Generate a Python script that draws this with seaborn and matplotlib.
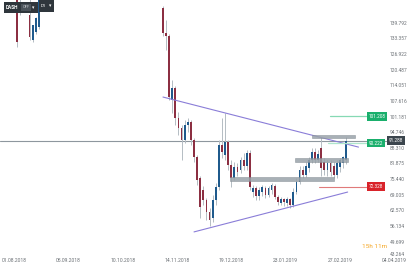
import numpy as np
import pandas as pd
import matplotlib
matplotlib.use("Agg")
import matplotlib.pyplot as plt
import matplotlib.dates as mdates
import matplotlib.transforms as mtransforms
from matplotlib.patches import Rectangle
import seaborn as sns

# ---------------- data ----------------
aug_start = "2018-08-01"
aug_open  = [185.0, 172.0, 150.0, 160.0, 165.0, 143.0, 132.7, 136.0, 138.0]
aug_high  = [190.0, 175.0, 175.0, 170.0, 168.0, 150.0, 138.8, 142.0, 160.0]
aug_low   = [168.0, 129.8, 142.9, 152.0, 150.0, 132.7, 131.9, 135.0, 137.0]
aug_close = [172.0, 131.8, 160.0, 165.0, 155.0, 133.9, 138.8, 141.7, 155.0]

main_start = "2018-11-05"
main_open = [145.8, 135.6, 134.3, 108.0, 112.9, 100.6, 96.5, 91.5, 97.7, 98.9,
             91.5, 84.5, 75.9, 70.9, 66.8, 61.9, 59.4, 66.8, 72.2, 89.5,
             85.4, 90.7, 81.2, 75.9, 80.4, 79.2, 83.3, 80.8, 86.2, 70.1,
             71.8, 68.5, 70.1, 71.8, 68.9, 70.9, 72.6, 68.1, 65.6, 67.2,
             65.6, 67.2, 64.8, 70.1, 74.2, 79.2, 77.1, 80.0, 83.3, 86.6,
             83.3, 88.2, 82.5, 79.2, 82.1, 80.8, 77.1, 80.4, 82.1, 83.3]
main_high = [146.7, 140.9, 135.1, 116.2, 113.7, 103.0, 97.7, 99.8, 100.6, 99.8,
             92.3, 85.4, 76.7, 72.6, 67.7, 63.5, 68.9, 73.8, 91.5, 100.6,
             102.6, 91.5, 83.3, 82.5, 82.1, 84.5, 86.2, 87.4, 87.4, 73.0,
             72.6, 72.2, 73.0, 72.6, 72.6, 73.8, 73.4, 68.9, 68.1, 67.7,
             68.1, 67.7, 71.8, 75.9, 80.8, 80.8, 82.5, 84.5, 88.2, 88.2,
             87.4, 92.8, 84.1, 83.3, 83.3, 82.5, 83.3, 84.1, 84.9, 92.8]
main_low = [134.3, 128.6, 108.0, 102.6, 97.7, 93.6, 83.3, 90.3, 94.8, 89.5,
            82.5, 73.0, 59.4, 64.8, 58.6, 56.1, 57.8, 64.8, 70.9, 84.1,
            83.3, 79.2, 72.2, 75.1, 76.7, 77.9, 79.2, 79.2, 70.9, 68.1,
            66.8, 66.8, 68.5, 67.7, 68.1, 69.3, 67.2, 64.8, 64.8, 64.4,
            64.4, 63.5, 64.0, 69.3, 73.4, 75.9, 76.3, 78.4, 82.1, 82.1,
            82.5, 76.7, 77.1, 76.7, 76.7, 75.9, 75.9, 78.4, 80.0, 81.6]
main_close = [135.6, 134.3, 109.2, 112.9, 100.6, 96.5, 91.5, 97.7, 98.9, 91.5,
              84.5, 75.1, 63.9, 66.8, 61.9, 58.6, 66.8, 72.2, 89.5, 86.6,
              90.7, 81.2, 75.9, 80.4, 78.4, 83.3, 80.8, 86.2, 72.2, 71.8,
              68.5, 70.9, 72.2, 68.9, 71.8, 73.0, 68.1, 66.0, 67.2, 66.0,
              67.2, 64.8, 70.1, 74.2, 79.2, 77.1, 80.8, 83.3, 86.6, 83.3,
              85.8, 80.0, 79.2, 82.1, 78.4, 77.1, 82.1, 83.3, 84.5, 91.288]

last_price = 91.288
green_level_1 = 101.208
green_level_2 = 90.222
red_level = 72.328

upper_trend_dates = ["2018-11-05", "2019-03-11"]
upper_trend_prices = [109.2, 88.6]
lower_trend_dates = ["2018-11-25", "2019-03-04"]
lower_trend_prices = [53.7, 70.1]

zone_starts = ["2018-12-18", "2019-01-29", "2019-02-09"]
zone_ends = ["2019-02-23", "2019-03-04", "2019-03-09"]
zone_lows = [74.65, 82.5, 92.2]
zone_highs = [76.3, 84.1, 93.6]

y_tick_values = [139.792, 133.357, 126.922, 120.487, 114.051, 107.616, 101.181, 94.746,
                 88.310, 81.875, 75.440, 69.005, 62.570, 56.134, 49.699, 43.264]
y_tick_labels = ["139.792", "133.357", "126.922", "120.487", "114.051", "107.616", "101.181",
                 "94.746", "88.310", "81.875", "75.440", "69.005", "62.570", "56.134",
                 "49.699", "43.264"]
x_tick_labels = ["01.08.2018", "05.09.2018", "10.10.2018", "14.11.2018",
                 "19.12.2018", "23.01.2019", "27.02.2019", "04.04.2019"]

# ---------------- frame ----------------
aug = pd.DataFrame({"date": pd.date_range(aug_start, periods=len(aug_open), freq="2D"),
                    "open": aug_open, "high": aug_high, "low": aug_low, "close": aug_close})
main = pd.DataFrame({"date": pd.date_range(main_start, periods=len(main_open), freq="2D"),
                     "open": main_open, "high": main_high, "low": main_low, "close": main_close})
df = pd.concat([aug, main], ignore_index=True)
df["x"] = mdates.date2num(df["date"])
df["up"] = df["close"] >= df["open"]

sns.set_theme(style="white")
plt.rcParams["font.family"] = ["Roboto", "DejaVu Sans"]

W, H, DPI = 415, 267, 100
fig = plt.figure(figsize=(W / DPI, H / DPI), dpi=DPI)
fig.patch.set_facecolor("white")
ax = fig.add_axes([0, 0, 1, 1])
ax.set_facecolor("white")
for s in ax.spines.values():
    s.set_visible(False)

base = mdates.date2num(pd.Timestamp(aug_start))
XL = (base - 9.02, base + 258.4)
YL = (39.26, 149.13)

up_c, dn_c, wick_c = "#1f5a8c", "#8c2f42", "#b4bcc3"

ax.vlines(df["x"], df["low"], df["high"], color=wick_c, lw=0.7, zorder=2)
body_bottom = np.minimum(df["open"], df["close"])
body_h = np.maximum(np.abs(df["close"] - df["open"]), 0.35)
ax.bar(df["x"], body_h, bottom=body_bottom, width=1.15,
       color=np.where(df["up"], up_c, dn_c), edgecolor="none", zorder=3)

# current price line
ytr = ax.get_yaxis_transform()
ax.plot([0, 388 / W], [last_price, last_price], transform=ytr, color="#8e979e", lw=0.8, zorder=1)

# trendlines with seaborn
tr = pd.DataFrame({
    "date": mdates.date2num(pd.to_datetime(upper_trend_dates + lower_trend_dates)),
    "price": upper_trend_prices + lower_trend_prices,
    "line": ["upper", "upper", "lower", "lower"],
})
sns.lineplot(data=tr, x="date", y="price", units="line", estimator=None,
             color="#8a7dd8", lw=0.8, ax=ax, zorder=4, legend=False)
ax.set_xlabel("")
ax.set_ylabel("")

# zones
for s0, s1, lo, hi in zip(zone_starts, zone_ends, zone_lows, zone_highs):
    x0 = mdates.date2num(pd.Timestamp(s0))
    x1 = mdates.date2num(pd.Timestamp(s1))
    ax.add_patch(Rectangle((x0, lo), x1 - x0, hi - lo, facecolor="#99a2a9",
                           edgecolor="#838c93", lw=0.4, alpha=0.85, zorder=5))

# level lines + boxes
ax.plot([330 / W, 367 / W], [green_level_1] * 2, transform=ytr, color="#86d9b4", lw=0.9, zorder=4)
ax.plot([328 / W, 367 / W], [green_level_2] * 2, transform=ytr, color="#aee6cc", lw=0.9, zorder=4)
ax.plot([319 / W, 367 / W], [red_level] * 2, transform=ytr, color="#e07a7a", lw=0.8, zorder=4)

def box(xfrac, y, txt, fc):
    ax.text(xfrac, y, txt, transform=ytr, ha="left", va="center", fontsize=3.4,
            color="white", zorder=7,
            bbox=dict(boxstyle="square,pad=0.35", fc=fc, ec="none"))

box(368.5 / W, green_level_1, f"{green_level_1:.3f}", "#1aaf6c")
box(368.5 / W, green_level_2, f"{green_level_2:.3f}", "#1aaf6c")
box(368.5 / W, red_level, f"{red_level:.3f}", "#d9232a")
box(389 / W, last_price, f"{last_price:.3f}", "#3b454d")

# axes ticks inside
ax.yaxis.tick_right()
ax.set_yticks(y_tick_values)
ax.set_yticklabels(y_tick_labels)
ax.tick_params(axis="y", length=0, pad=-18, labelsize=3.5, labelcolor="#6c7176")
for lbl in ax.get_yticklabels():
    lbl.set_horizontalalignment("left")
    if lbl.get_text() == "43.264":
        lbl.set_verticalalignment("bottom")

x_ticks = mdates.date2num(pd.date_range(aug_start, periods=len(x_tick_labels), freq="35D"))
ax.set_xticks(x_ticks)
ax.set_xticklabels(x_tick_labels)
ax.tick_params(axis="x", length=0, pad=-6.8, labelsize=3.6, labelcolor="#6c7176")
ax.set_xlim(*XL)
ax.set_ylim(*YL)

# countdown text
ax.text(362 / W, 1 - 247 / H, "15h 11m", transform=ax.transAxes, fontsize=4.6,
        color="#f5a623", ha="left", va="center", zorder=7)

# top-left UI boxes (pixel coords)
ident = mtransforms.IdentityTransform()
def rect(x, y, w, h, c):
    fig.patches.append(Rectangle((x, H - y - h), w, h, facecolor=c, edgecolor="none",
                                 transform=ident, figure=fig, zorder=10))
rect(4, 2, 34, 11, "#2f363c")
rect(21, 4, 10, 7, "#4a5259")
rect(39, 0, 15, 12, "#2f363c")
def ftxt(x, y, s, c, size=3.3, weight="normal"):
    fig.text(x, H - y, s, transform=ident, color=c, fontsize=size, fontweight=weight,
             ha="left", va="center", zorder=11, family=["Roboto", "DejaVu Sans"])
ftxt(6, 7.5, "DASH", "white", 3.4, "bold")
ftxt(22.5, 7.5, "OFF", "#c8ccd0", 2.8)
ftxt(32, 7.5, "▾", "white", 3.4)
ftxt(41, 6, "D1", "white", 3.2)
ftxt(49, 6, "▾", "white", 3.4)

fig.savefig("out.png", dpi=DPI, facecolor="white")
